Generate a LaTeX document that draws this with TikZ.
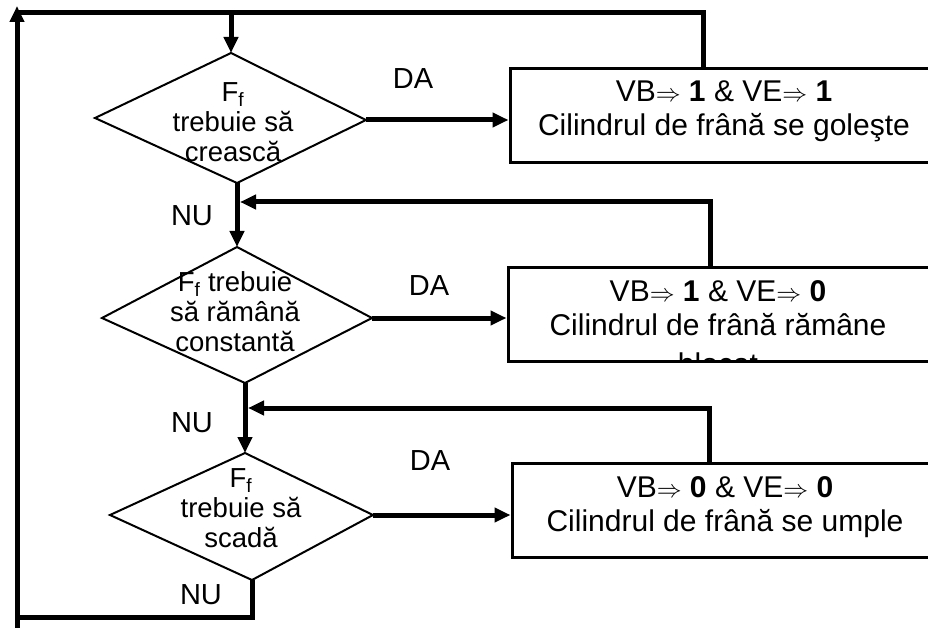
\documentclass[tikz,border=0pt]{standalone}
\usepackage{fontspec}
\setmainfont{Liberation Sans}
\usetikzlibrary{arrows.meta}
\begin{document}
\begin{tikzpicture}[x=1pt,y=-1pt,
  flow/.style={line width=5pt},
  arr/.style={flow,-{Triangle[length=16pt,width=14pt]}},
  decision/.style={draw,line width=2pt,line join=miter},
  action/.style={draw,line width=3pt,rectangle,minimum width=428pt,
    minimum height=94pt,inner sep=0pt},
  dtext/.style={align=center,inner sep=0pt,anchor=north,
    font=\fontsize{27.5}{30}\selectfont},
  btext/.style={align=center,inner sep=0pt,anchor=north,
    font=\fontsize{30}{34}\selectfont},
  lbl/.style={inner sep=0pt,font=\fontsize{29}{32}\selectfont}]
\clip (0,0) rectangle (928,628);
\fill[white] (0,0) rectangle (928,628);

% decision diamonds (corner points)
\coordinate (d1n) at (231,53);  \coordinate (d1w) at (95,118);
\coordinate (d1s) at (237,183); \coordinate (d1e) at (366,120);
\coordinate (d2n) at (237,247); \coordinate (d2w) at (102,318);
\coordinate (d2s) at (245,383); \coordinate (d2e) at (372,318);
\coordinate (d3n) at (245,453); \coordinate (d3w) at (110,515);
\coordinate (d3s) at (252,580); \coordinate (d3e) at (373,515);
\draw[decision] (d1n) -- (d1e) -- (d1s) -- (d1w) -- cycle;
\draw[decision] (d2n) -- (d2e) -- (d2s) -- (d2w) -- cycle;
\draw[decision] (d3n) -- (d3e) -- (d3s) -- (d3w) -- cycle;
\node[dtext] (d1) at (233,82) {F\textsubscript{f}\\trebuie să\\crească};
\node[dtext] (d2) at (235,271) {F\textsubscript{f} trebuie\\să rămână\\constantă};
\node[dtext] (d3) at (241,468) {F\textsubscript{f}\\trebuie să\\scadă};

% action boxes
\node[action] (b1) at (724,115.5) {};
\node[action] (b2) at (722,314) {};
\node[action] (b3) at (726,510) {};
\node[btext] (b1t) at (724,81)
  {VB$\Rightarrow$ \textbf{1} \& VE$\Rightarrow$ \textbf{1}\\Cilindrul de frână se goleşte};
\begin{scope}
  \clip ([xshift=1.5pt,yshift=-1.5pt]b2.north west) rectangle ([xshift=-1.5pt,yshift=1.5pt]b2.south east);
  \node[btext] (b2t) at (718,280)
    {VB$\Rightarrow$ \textbf{1} \& VE$\Rightarrow$ \textbf{0}\\Cilindrul de frână rămâne\\[5pt]blocat};
\end{scope}
\node[btext] (b3t) at (725,476)
  {VB$\Rightarrow$ \textbf{0} \& VE$\Rightarrow$ \textbf{0}\\Cilindrul de frână se umple};

% branch labels
\node[lbl] (da1) at (413,79) {DA};
\node[lbl] (da2) at (429,286) {DA};
\node[lbl] (da3) at (430,461) {DA};
\node[lbl] (nu1) at (192,216) {NU};
\node[lbl] (nu2) at (192,423) {NU};
\node[lbl] (nu3) at (201,595) {NU};

% loop-back frame
\coordinate (lb) at (17,628);
\coordinate (lc) at (17,617);
\coordinate (lt) at (17,6);
\coordinate (tl) at (15,13);
\coordinate (tr) at (703,13);
\draw[flow] (d3s) |- (lc);
\draw[arr] (lb) -- (lt);
\draw[flow] (tr |- b1.north) -- (tr) -- (tl);
\draw[arr] (d1n |- tr) -- (d1n);

% YES branches
\draw[arr] (d1e) -- (d1e -| b1.west);
\draw[arr] (d2e) -- (d2e -| b2.west);
\draw[arr] (d3e) -- (d3e -| b3.west);

% NO branches
\draw[arr] (d1s) -- (d2n);
\draw[arr] (d2s) -- (d3n);

% returns from the boxes
\coordinate (f2) at (710,202);
\coordinate (j1) at (240,202);
\coordinate (f3) at (709,408);
\coordinate (j2) at (248,408);
\draw[arr] (f2 |- b2.north) -- (f2) -- (j1);
\draw[arr] (f3 |- b3.north) -- (f3) -- (j2);
\end{tikzpicture}
\end{document}
